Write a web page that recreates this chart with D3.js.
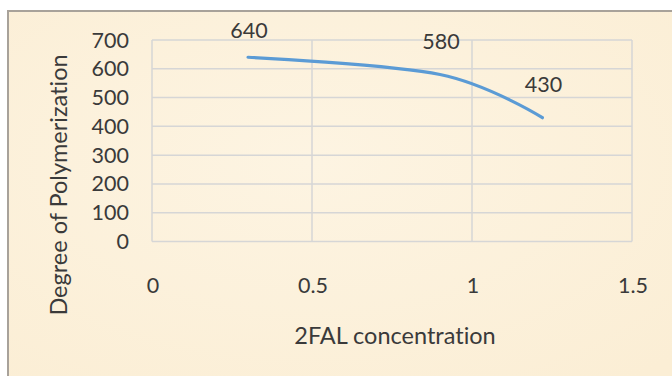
<!DOCTYPE html>
<html>
<head>
<meta charset="utf-8">
<script src="https://cdn.jsdelivr.net/npm/d3@7"></script>
<style>
  html, body { margin: 0; padding: 0; background: #ffffff; }
  svg { display: block; }
  text { font-family: Lato, "Open Sans", sans-serif; fill: #3a3a3a; font-variant-ligatures: none; font-feature-settings: "liga" 0; }
</style>
</head>
<body>
<svg id="chart" width="672" height="376"></svg>
<script>
// ---- data ----
const xValues = [0.3, 0.9, 1.22];
const yValues = [640, 580, 430];
const xTicks = [0, 0.5, 1, 1.5];
const yTicks = [0, 100, 200, 300, 400, 500, 600, 700];
const xTitle = "2FAL concentration";
const yTitle = "Degree of Polymerization";

const W = 672, H = 376;
const svg = d3.select("#chart");

// background parchment
const defs = svg.append("defs");
const grad = defs.append("radialGradient").attr("id", "bg").attr("cx", "45%").attr("cy", "40%").attr("r", "75%");
grad.append("stop").attr("offset", "0%").attr("stop-color", "#fdf4e2");
grad.append("stop").attr("offset", "100%").attr("stop-color", "#fbeed5");

svg.append("rect").attr("x", 8).attr("y", 11).attr("width", W).attr("height", H)
  .attr("fill", "url(#bg)").attr("stroke", "#a8a29a").attr("stroke-width", 2);

const x = d3.scaleLinear().domain([0, 1.5]).range([152, 632]);
const y = d3.scaleLinear().domain([0, 700]).range([241.5, 40]);

// grid
const grid = svg.append("g");
grid.selectAll("line.h").data(yTicks).join("line")
  .attr("x1", x(0)).attr("x2", x(1.5))
  .attr("y1", d => y(d)).attr("y2", d => y(d))
  .attr("stroke", "#d6d6d6").attr("stroke-width", 1.5);
grid.selectAll("line.v").data(xTicks).join("line")
  .attr("y1", y(0)).attr("y2", y(700))
  .attr("x1", d => x(d)).attr("x2", d => x(d))
  .attr("stroke", "#d6d6d6").attr("stroke-width", 1.5);

const tickSize = 21.5;

// y tick labels
svg.append("g").selectAll("text").data(yTicks).join("text")
  .attr("x", 129).attr("y", d => y(d)).attr("dy", "0.35em")
  .attr("text-anchor", "end").attr("font-size", tickSize)
  .text(d => d);

// x tick labels
svg.append("g").selectAll("text").data(xTicks).join("text")
  .attr("x", d => x(d) + 1).attr("y", 285).attr("dy", "0.35em")
  .attr("text-anchor", "middle").attr("font-size", tickSize)
  .text(d => d);

// titles
svg.append("text").attr("x", 395).attr("y", 336).attr("dy", "0.35em")
  .attr("text-anchor", "middle").attr("font-size", 23.5).text(xTitle);
svg.append("text").attr("transform", "translate(59,185) rotate(-90)")
  .attr("dy", "0.35em").attr("text-anchor", "middle").attr("font-size", 23.5).text(yTitle);

// line
const pts = xValues.map((d, i) => [d, yValues[i]]);
const line = d3.line().x(d => x(d[0])).y(d => y(d[1])).curve(d3.curveCardinal.tension(0));
svg.append("path").datum(pts).attr("d", line)
  .attr("fill", "none").attr("stroke", "#5b9bd5").attr("stroke-width", 3.2)
  .attr("stroke-linecap", "round");

// data labels
svg.append("g").selectAll("text").data(pts).join("text")
  .attr("x", d => x(d[0]) + 1)
  .attr("y", d => Math.max(30, y(d[1]) - 33)).attr("dy", "0.35em")
  .attr("text-anchor", "middle").attr("font-size", tickSize)
  .text(d => d[1]);
</script>
</body>
</html>
